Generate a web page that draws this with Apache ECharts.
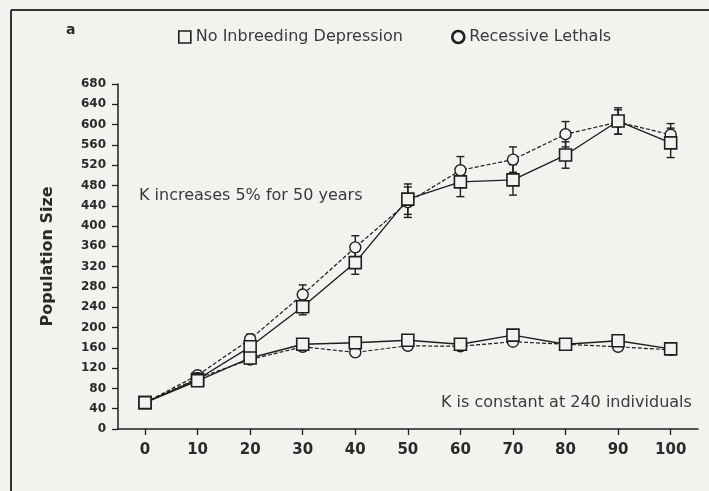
<!DOCTYPE html>
<html>
<head>
<meta charset="utf-8">
<script src="https://cdn.jsdelivr.net/npm/echarts@6/dist/echarts.min.js"></script>
<style>
  html, body { margin: 0; padding: 0; background: #f2f2ef; }
  #chart { width: 709px; height: 491px; }
</style>
</head>
<body>
<div id="chart"></div>
<script>
// Simulated population size over 100 years, two carrying-capacity scenarios
const years = [0, 10, 20, 30, 40, 50, 60, 70, 80, 90, 100];
const xTicks = [0, 10, 20, 30, 40, 50, 60, 70, 80, 90, 100];

// K increases 5% for 50 years
const growNoInbreeding    = [52, 98, 162, 241, 328, 453, 487, 491, 540, 607, 564];
const growNoInbreedingErr = [0, 0, 12, 16, 23, 30, 29, 30, 26, 26, 29];
const growLethals         = [52, 106, 177, 265, 358, 447, 510, 531, 581, 605, 580];
const growLethalsErr      = [0, 0, 10, 19, 23, 30, 27, 25, 25, 24, 22];

// K is constant at 240 individuals
const constNoInbreeding = [52, 95, 140, 167, 170, 175, 167, 185, 167, 174, 158];
const constLethals      = [52, 100, 137, 162, 151, 164, 163, 172, 167, 162, 156];

const NAME_NONE = 'No Inbreeding Depression';
const NAME_LETHAL = 'Recessive Lethals';
const BG = '#f2f2ef';
const INK = '#1e1e1e';
const FONT = 'DejaVu Sans';

const pairs = (vals) => years.map((x, i) => [x, vals[i]]);
const triples = (vals, errs) => years.map((x, i) => [x, vals[i], errs[i]]);

function errorBars(params, api) {
  const x = api.value(0), y = api.value(1), e = api.value(2);
  if (!e) return null;
  const top = api.coord([x, y + e]);
  const bot = api.coord([x, y - e]);
  const cap = 4;
  const style = { stroke: INK, lineWidth: 1.4 };
  return {
    type: 'group',
    children: [
      { type: 'line', shape: { x1: top[0], y1: top[1], x2: bot[0], y2: bot[1] }, style },
      { type: 'line', shape: { x1: top[0] - cap, y1: top[1], x2: top[0] + cap, y2: top[1] }, style },
      { type: 'line', shape: { x1: bot[0] - cap, y1: bot[1], x2: bot[0] + cap, y2: bot[1] }, style }
    ]
  };
}

const squareStyle = { color: BG, borderColor: INK, borderWidth: 1.6 };
const circleStyle = { color: BG, borderColor: INK, borderWidth: 1.4 };

function squareSeries(vals) {
  return {
    name: NAME_NONE, type: 'line', data: pairs(vals), z: 4,
    symbol: 'rect', symbolSize: 12, itemStyle: squareStyle,
    lineStyle: { color: INK, width: 1.4, type: 'solid' }
  };
}
function circleSeries(vals) {
  return {
    name: NAME_LETHAL, type: 'line', data: pairs(vals), z: 3,
    symbol: 'circle', symbolSize: 11, itemStyle: circleStyle,
    lineStyle: { color: INK, width: 1.2, type: [4, 2] }
  };
}
function errSeries(name, vals, errs) {
  return {
    name, type: 'custom', renderItem: errorBars, z: 2,
    data: triples(vals, errs), encode: { x: 0, y: 1 }
  };
}

const chart = echarts.init(document.getElementById('chart'), null, { renderer: 'canvas' });
chart.setOption({
  animation: false,
  backgroundColor: BG,
  grid: { left: 118, right: 11, top: 84, bottom: 62 },
  legend: {
    left: 173, top: 24, itemGap: 48, itemWidth: 12, itemHeight: 12,
    textStyle: { fontFamily: FONT, fontSize: 16, color: '#3a3a3a' },
    data: [
      { name: NAME_NONE, icon: 'rect', itemStyle: { color: BG, borderColor: INK, borderWidth: 1.6 } },
      { name: NAME_LETHAL, icon: 'circle', itemStyle: { color: BG, borderColor: INK, borderWidth: 2.6 } }
    ]
  },
  xAxis: {
    type: 'value', min: -5.14, max: 105.2,
    axisLine: { show: true, onZero: false, lineStyle: { color: INK, width: 1.5 } },
    axisTick: { show: true, inside: false, length: 6, customValues: xTicks, lineStyle: { color: INK, width: 1.3 } },
    axisLabel: { customValues: xTicks, margin: 14, fontFamily: FONT, fontWeight: 'bold', fontSize: 15, color: '#2a2a2a' },
    splitLine: { show: false }
  },
  yAxis: {
    type: 'value', min: 0, max: 680, interval: 40,
    name: 'Population Size', nameLocation: 'middle', nameGap: 62, nameRotate: 90,
    nameTextStyle: { fontFamily: FONT, fontWeight: 'bold', fontSize: 16, color: '#2a2a2a' },
    axisLine: { show: true, onZero: false, lineStyle: { color: INK, width: 1.5 } },
    axisTick: { show: true, inside: false, length: 6, lineStyle: { color: INK, width: 1.3 } },
    axisLabel: { margin: 12, fontFamily: FONT, fontWeight: 'bold', fontSize: 12, color: '#2a2a2a' },
    splitLine: { show: false }
  },
  graphic: [
    { type: 'line', shape: { x1: 11, y1: 10, x2: 11, y2: 491 }, style: { stroke: '#333', lineWidth: 2 } },
    { type: 'line', shape: { x1: 11, y1: 10, x2: 709, y2: 10 }, style: { stroke: '#333', lineWidth: 2 } },
    { type: 'text', left: 66, top: 23, style: { text: 'a', font: 'bold 14px "DejaVu Sans"', fill: '#2a2a2a' } },
    { type: 'text', left: 139, top: 188, style: { text: 'K increases 5% for 50 years', font: '16px "DejaVu Sans"', fill: '#3a3a3a' } },
    { type: 'text', left: 441, top: 395, style: { text: 'K is constant at 240 individuals', font: '16px "DejaVu Sans"', fill: '#3a3a3a' } }
  ],
  series: [
    errSeries(NAME_LETHAL, growLethals, growLethalsErr),
    errSeries(NAME_NONE, growNoInbreeding, growNoInbreedingErr),
    circleSeries(growLethals),
    circleSeries(constLethals),
    squareSeries(growNoInbreeding),
    squareSeries(constNoInbreeding)
  ]
});
</script>
</body>
</html>
